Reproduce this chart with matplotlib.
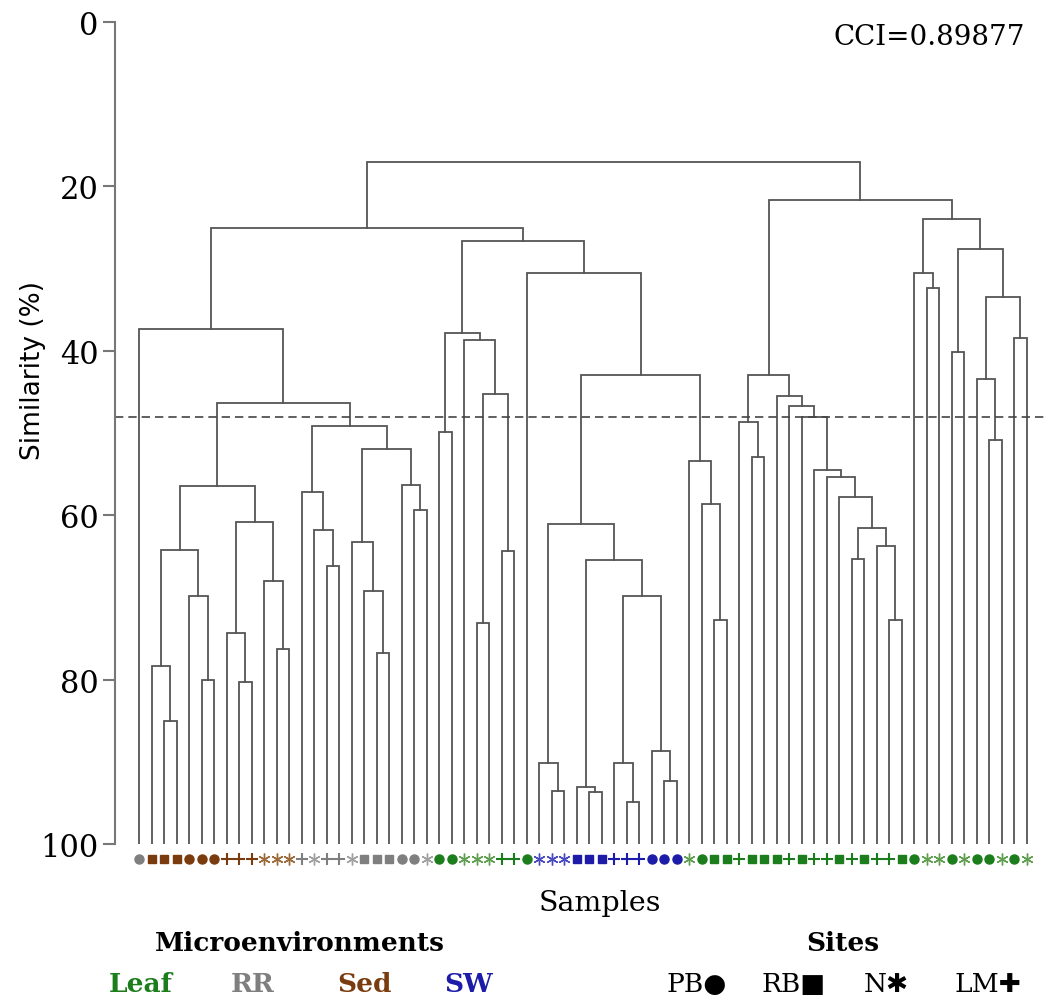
import matplotlib.pyplot as plt

# microenvironment of each sample (leaf order, left -> right)
env = ("RR Sed Sed Sed Sed Sed Sed Sed Sed Sed Sed Sed Sed "
       "RR RR RR RR RR RR RR RR RR RR RR "
       "Leaf Leaf Leaf Leaf Leaf Leaf Leaf Leaf "
       "SW SW SW SW SW SW SW SW SW SW SW SW "
       "Leaf Leaf Leaf Leaf Leaf Leaf Leaf Leaf Leaf Leaf Leaf Leaf Leaf Leaf "
       "Leaf Leaf Leaf Leaf Leaf Leaf Leaf Leaf Leaf Leaf Leaf Leaf Leaf Leaf").split()

# site of each sample
site = ("PB RB RB RB PB PB PB LM LM LM N N N "
        "LM N LM LM N RB RB RB PB PB N "
        "PB PB N N N LM LM PB "
        "N N N RB RB RB LM LM LM PB PB PB "
        "N PB RB RB LM RB RB RB LM RB LM LM RB LM "
        "RB LM LM RB PB N N PB N PB PB N PB N").split()

# merges: (name, child a, child b, similarity %) ; int = leaf, str = merged node
merges = [
    ("a1", 2, 3, 85.0), ("a2", 1, "a1", 78.3), ("a3", 5, 6, 80.0),
    ("a4", 4, "a3", 69.8), ("a5", "a2", "a4", 64.2),
    ("b1", 8, 9, 80.3), ("b2", 7, "b1", 74.3), ("b3", 11, 12, 76.3),
    ("b4", 10, "b3", 68.0), ("b5", "b2", "b4", 60.8), ("ab", "a5", "b5", 56.5),
    ("c1", 15, 16, 66.2), ("c2", 14, "c1", 61.8), ("c3", 13, "c2", 57.2),
    ("c4", 19, 20, 76.8), ("c5", 18, "c4", 69.2), ("c6", 17, "c5", 63.2),
    ("c7", 22, 23, 59.4), ("c8", 21, "c7", 56.3), ("c9", "c6", "c8", 51.9),
    ("c10", "c3", "c9", 49.1), ("abc", "ab", "c10", 46.4), ("L", 0, "abc", 37.4),
    ("m1", 24, 25, 49.9), ("m2", 27, 28, 73.1), ("m3", 29, 30, 64.4),
    ("m4", "m2", "m3", 45.2), ("m5", 26, "m4", 38.7), ("M", "m1", "m5", 37.8),
    ("d1", 33, 34, 93.5), ("d2", 32, "d1", 90.1), ("d3", 36, 37, 93.7),
    ("d4", 35, "d3", 93.1), ("d5", 39, 40, 94.9), ("d6", 38, "d5", 90.1),
    ("d7", 42, 43, 92.3), ("d8", 41, "d7", 88.7), ("d9", "d6", "d8", 69.8),
    ("d10", "d4", "d9", 65.5), ("d11", "d2", "d10", 61.1),
    ("e1", 46, 47, 72.8), ("e2", 45, "e1", 58.6), ("e3", 44, "e2", 53.4),
    ("B", "d11", "e3", 42.9), ("N", 31, "B", 30.5), ("P", "M", "N", 26.6),
    ("Q", "L", "P", 25.1),
    ("f1", 49, 50, 52.9), ("f2", 48, "f1", 48.7),
    ("g1", 60, 61, 72.7), ("g2", 59, "g1", 63.8), ("g3", 57, 58, 65.3),
    ("g4", "g3", "g2", 61.6), ("g5", 56, "g4", 57.8), ("g6", 55, "g5", 55.4),
    ("g7", 54, "g6", 54.5), ("g8", 53, "g7", 48.0), ("g9", 52, "g8", 46.7),
    ("g10", 51, "g9", 45.5), ("R1", "f2", "g10", 43.0),
    ("h1", 63, 64, 32.3), ("h2", 62, "h1", 30.5), ("i1", 65, 66, 40.1),
    ("i2", 68, 69, 50.8), ("i3", 67, "i2", 43.4), ("i4", 70, 71, 38.5),
    ("i5", "i3", "i4", 33.4), ("i6", "i1", "i5", 27.6), ("R2", "h2", "i6", 24.0),
    ("R", "R1", "R2", 21.7), ("root", "Q", "R", 17.0),
]

cut = 48.0
cci = "CCI=0.89877"

env_colors = {"Leaf": "#1b7d1b", "RR": "#7f7f7f", "Sed": "#7a3c0e", "SW": "#1c1ca8"}
# lighter tint used for the thin asterisk marks
star_colors = {"Leaf": "#5f9f4f", "RR": "#a0a0a0", "Sed": "#9a6a3a", "SW": "#4a4ac0"}
site_marker = {"PB": ("o", 6.5, 1.0), "RB": ("s", 6.0, 1.0),
               "N": ((6, 2, 0), 8.5, 1.0), "LM": ("+", 8, 1.5)}

fig = plt.figure(figsize=(10.5, 10.03), dpi=100)
ax = fig.add_axes([115 / 1050, 1 - 845 / 1003, (1048 - 115) / 1050, (845 - 23) / 1003])

lc = "#555555"
pos = {}
for i in range(len(env)):
    pos[i] = (i, 100.0)
for name, a, b, h in merges:
    xa, ya = pos[a]
    xb, yb = pos[b]
    ax.plot([xa, xa, xb, xb], [ya, h, h, yb], color=lc, lw=1.3,
            solid_joinstyle="miter")
    pos[name] = ((xa + xb) / 2, h)

# cut line
ax.axhline(cut, color="#444444", lw=1.2, ls=(0, (5, 3)))

# sample markers
for i, (e, s) in enumerate(zip(env, site)):
    col = star_colors[e] if s == "N" else env_colors[e]
    m, ms, mew = site_marker[s]
    ax.plot(i, 101.8, marker=m, ms=ms, mew=mew, color=col, clip_on=False, lw=0)

ax.set_xlim(-1.92, 72.72)
ax.set_ylim(100, 0)
ax.set_yticks([0, 20, 40, 60, 80, 100])
ax.set_xticks([])
for sp in ["top", "right", "bottom"]:
    ax.spines[sp].set_visible(False)
ax.spines["left"].set_color("#777777")
ax.spines["left"].set_linewidth(1.5)
ax.tick_params(axis="y", length=9, width=1.5, color="#777777", pad=3,
               labelsize=22)
for t in ax.get_yticklabels():
    t.set_fontfamily("DejaVu Serif")

fig.text(0.031, 0.631, "Similarity (%)", rotation=90, ha="center", va="center",
         fontsize=19, family="DejaVu Sans")
fig.text(0.976, 0.963, cci, ha="right", va="center", fontsize=20,
         family="DejaVu Serif")
fig.text(0.571, 0.0997, "Samples", ha="center", va="center", fontsize=20.5,
         family="DejaVu Serif")

fig.text(0.2857, 0.0598, "Microenvironments", ha="center", va="center",
         fontsize=19, family="DejaVu Serif", weight="bold")
for lab, x in zip(["Leaf", "RR", "Sed", "SW"], [0.134, 0.241, 0.347, 0.446]):
    fig.text(x, 0.018, lab, ha="center", va="center", fontsize=19,
             family="DejaVu Serif", weight="bold", color=env_colors[lab])

fig.text(0.803, 0.0598, "Sites", ha="center", va="center", fontsize=19,
         family="DejaVu Serif", weight="bold")
for lab, sym, x in zip(["PB", "RB", "N", "LM"], ["\u25cf", "\u25a0", "\u2731", "\u271a"],
                       [0.663, 0.756, 0.844, 0.941]):
    fig.text(x, 0.018, lab + sym, ha="center", va="center", fontsize=19,
             family=["DejaVu Serif", "DejaVu Sans"])

fig.savefig("out.png", dpi=100)
